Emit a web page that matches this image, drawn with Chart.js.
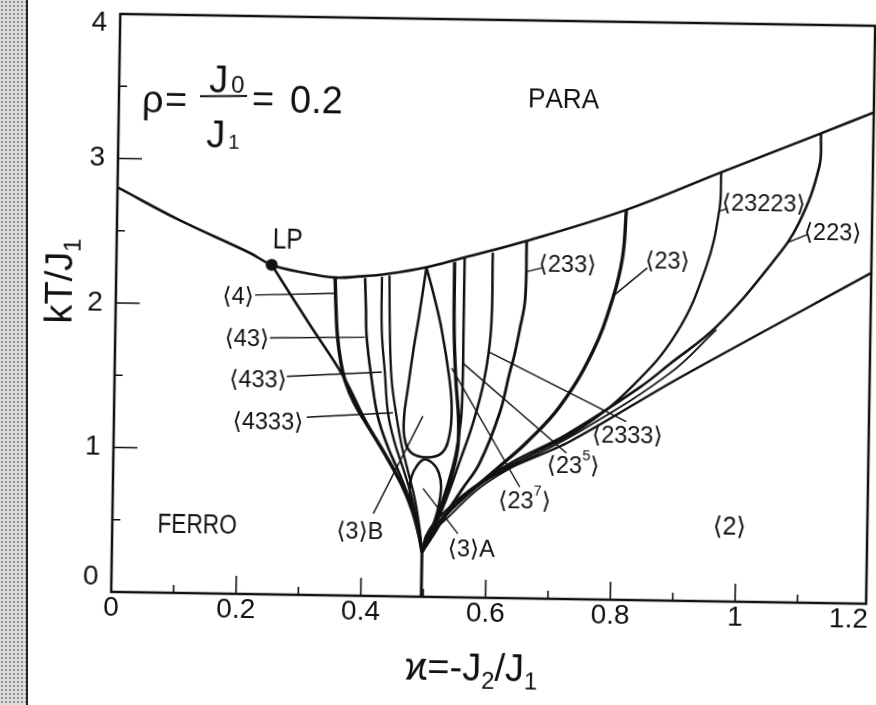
<!DOCTYPE html>
<html>
<head>
<meta charset="utf-8">
<title>Phase diagram, rho = 0.2</title>
<script src="https://cdn.jsdelivr.net/npm/chart.js@4.4.1/dist/chart.umd.min.js"></script>
<style>
  html, body { margin: 0; padding: 0; background: #fff; overflow: hidden; }
  #page { position: relative; width: 876px; height: 705px; }
  /* grey page edge of the scan */
  #edge { position: absolute; left: 0; top: 0; width: 26px; height: 705px;
          background: radial-gradient(#8c8c8c 0.7px, transparent 1.3px) 0 0 / 4px 4px, #dcdcdc;
          border-right: 2px solid #222; }
  /* the scanned figure is tilted a little, so is the chart */
  #chart { position: absolute; left: 0; top: 0;
           transform: rotate(0.9deg); transform-origin: 438px 352.5px; }
</style>
</head>
<body>
<div id="page">
  <div id="edge"></div>
  <canvas id="chart" width="876" height="705"></canvas>
</div>
<script>
const ink = '#111';

// axis ticks
const xTicks = [0, 0.1, 0.2, 0.3, 0.4, 0.5, 0.6, 0.7, 0.8, 0.9, 1, 1.1, 1.2];
const xMajor = [0, 0.2, 0.4, 0.6, 0.8, 1, 1.2];
const xLabels = ['0', '0.2', '0.4', '0.6', '0.8', '1', '1.2'];
const yTicks = [0, 0.5, 1, 1.5, 2, 2.5, 3, 3.5, 4];
const yMajor = [0, 1, 2, 3, 4];
const yLabels = ['0', '1', '2', '3', '4'];

// para / modulated boundary
const paraX = [0, 0.1, 0.214, 0.249, 0.3, 0.351, 0.391, 0.434, 0.497, 0.555, 0.646, 0.816, 0.967, 1.126, 1.21];
const paraY = [2.8, 2.58, 2.36, 2.28, 2.23, 2.2, 2.21, 2.23, 2.28, 2.35, 2.46, 2.7, 2.97, 3.25, 3.4];

// Lifshitz point
const lpX = 0.249;
const lpY = 2.28;

// ferro boundary from LP down to the multiphase point, then the stem
const ferroX = [0.249, 0.31, 0.366, 0.405, 0.437, 0.462, 0.48, 0.492, 0.497];
const ferroY = [2.28, 1.88, 1.52, 1.2, 0.97, 0.78, 0.6, 0.42, 0.31];
const stemX = [0.497, 0.497];
const stemY = [0, 0.31];

// left family <4>, <43>, <433>, <4333>
const c4X = [0.351, 0.353, 0.356, 0.362, 0.37, 0.385, 0.405, 0.437, 0.462, 0.48, 0.492, 0.497];
const c4Y = [2.2, 2.0, 1.8, 1.62, 1.48, 1.33, 1.19, 0.97, 0.78, 0.6, 0.42, 0.31];
const c43X = [0.399, 0.401, 0.403, 0.412, 0.423, 0.44, 0.46, 0.478, 0.491, 0.497];
const c43Y = [2.2, 2.0, 1.79, 1.5, 1.24, 1.03, 0.84, 0.64, 0.44, 0.31];
const c433X = [0.426, 0.427, 0.433, 0.439, 0.45, 0.466, 0.481, 0.492, 0.497];
const c433Y = [2.21, 1.84, 1.55, 1.27, 1.07, 0.87, 0.66, 0.45, 0.31];
const c4333X = [0.438, 0.44, 0.444, 0.453, 0.462, 0.473, 0.485, 0.493, 0.497];
const c4333Y = [2.22, 1.84, 1.5, 1.24, 1.04, 0.86, 0.66, 0.46, 0.31];

// <3> lenses
const lensBX = [0.497, 0.487, 0.478, 0.47, 0.465, 0.466, 0.476, 0.502, 0.527, 0.538, 0.541, 0.537, 0.523, 0.51, 0.497];
const lensBY = [2.28, 1.96, 1.7, 1.43, 1.25, 1.1, 1.0, 0.965, 1.0, 1.12, 1.3, 1.5, 1.85, 2.08, 2.28];
const lensAX = [0.497, 0.493, 0.485, 0.477, 0.476, 0.482, 0.497, 0.512, 0.522, 0.526, 0.521, 0.51, 0.497];
const lensAY = [0.31, 0.42, 0.55, 0.68, 0.78, 0.87, 0.95, 0.925, 0.86, 0.76, 0.6, 0.45, 0.31];

// right family <23^n>, <2333>, <233>, <23>, <23223>, <223>
const r1X = [0.542, 0.543, 0.547, 0.552, 0.552, 0.545, 0.533, 0.518, 0.505, 0.497];
const r1Y = [2.32, 1.85, 1.5, 1.25, 1.05, 0.88, 0.7, 0.52, 0.4, 0.31];
const r2X = [0.558, 0.558, 0.558, 0.556, 0.548, 0.535, 0.52, 0.507, 0.497];
const r2Y = [2.35, 1.85, 1.5, 1.22, 0.98, 0.76, 0.56, 0.42, 0.31];
const r3X = [0.603, 0.602, 0.592, 0.575, 0.556, 0.538, 0.522, 0.508, 0.497];
const r3Y = [2.39, 1.85, 1.5, 1.2, 0.95, 0.72, 0.54, 0.41, 0.31];
const c233X = [0.657, 0.656, 0.648, 0.64, 0.633, 0.618, 0.587, 0.56, 0.535, 0.515, 0.497];
const c233Y = [2.47, 2.07, 1.86, 1.68, 1.56, 1.28, 0.93, 0.75, 0.58, 0.43, 0.31];
const c23X = [0.816, 0.811, 0.796, 0.765, 0.714, 0.662, 0.619, 0.57, 0.53, 0.51, 0.497];
const c23Y = [2.7, 2.37, 2.08, 1.71, 1.33, 1.08, 0.91, 0.72, 0.55, 0.43, 0.31];
const c23223X = [0.967, 0.965, 0.945, 0.899, 0.83, 0.751, 0.672, 0.6, 0.55, 0.515, 0.497];
const c23223Y = [2.97, 2.71, 2.31, 1.85, 1.48, 1.19, 1.0, 0.82, 0.64, 0.47, 0.31];
const c223X = [1.126, 1.124, 1.093, 1.051, 0.963, 0.89, 0.841, 0.726, 0.635, 0.57, 0.525, 0.497];
const c223Y = [3.25, 3.02, 2.63, 2.35, 1.9, 1.64, 1.47, 1.14, 0.93, 0.73, 0.51, 0.31];
const extraX = [0.505, 0.53, 0.6, 0.75, 0.89, 0.963];
const extraY = [0.42, 0.52, 0.8, 1.17, 1.575, 1.88];

// boundary of the <2> phase
const c2X = [0.497, 0.503, 0.519, 0.572, 0.63, 0.731, 0.9, 1.21];
const c2Y = [0.31, 0.42, 0.53, 0.745, 0.89, 1.09, 1.53, 2.29];

// leader lines from labels to phases
const leaderX = [[0.223, 0.351], [0.248, 0.4], [0.276, 0.428], [0.309, 0.447],
                 [0.418, 0.495], [0.554, 0.497], [0.652, 0.54], [0.726, 0.558], [0.821, 0.6],
                 [0.657, 0.683], [0.799, 0.851], [0.965, 0.978], [1.075, 1.107]];
const leaderY = [[2.07, 2.09], [1.775, 1.79], [1.51, 1.55], [1.23, 1.27],
                 [0.57, 1.25], [0.44, 0.75], [0.77, 1.585], [1.01, 1.62], [1.235, 1.7],
                 [2.26, 2.29], [2.11, 2.3], [2.7, 2.72], [2.49, 2.55]];

// labels
const labelText = ['LP', 'PARA', 'FERRO', '⟨2⟩', '⟨4⟩', '⟨43⟩', '⟨433⟩', '⟨4333⟩', '⟨3⟩B', '⟨3⟩A',
                   '⟨23⁷⟩', '⟨23⁵⟩', '⟨2333⟩', '⟨233⟩', '⟨23⟩', '⟨23223⟩', '⟨223⟩'];
const labelX = [0.274, 0.7125, 0.136, 0.989, 0.196, 0.211, 0.23, 0.247, 0.397, 0.576,
                0.66, 0.737, 0.823, 0.723, 0.883, 1.036, 1.147];
const labelY = [2.45, 3.447, 0.466, 0.51, 2.055, 1.76, 1.48, 1.19, 0.44, 0.33,
                0.67, 0.92, 1.13, 2.31, 2.34, 2.75, 2.56];

const pts = (xs, ys) => xs.map((v, i) => ({ x: v, y: ys[i] }));
const curve = (xs, ys, w, tension = 0.4) => ({
  data: pts(xs, ys), showLine: true, borderColor: ink, borderWidth: w,
  pointRadius: 0, tension: tension, fill: false
});

const datasets = [
  curve(paraX, paraY, 2.6),
  curve(ferroX, ferroY, 2.6),
  curve(stemX, stemY, 3, 0),
  curve(c4X, c4Y, 3.5),
  curve(c43X, c43Y, 2.6),
  curve(c433X, c433Y, 2.3),
  curve(c4333X, c4333Y, 2.3),
  curve(lensBX, lensBY, 2.5),
  curve(lensAX, lensAY, 2.5),
  curve(r1X, r1Y, 3.4),
  curve(r2X, r2Y, 2.5),
  curve(r3X, r3Y, 2.5),
  curve(c233X, c233Y, 2.8),
  curve(c23X, c23Y, 3.4),
  curve(c23223X, c23223Y, 2.3),
  curve(c223X, c223Y, 2.6),
  curve(extraX, extraY, 1.8),
  curve(c2X, c2Y, 2.3, 0.3),
  ...leaderX.map((lx, i) => curve(lx, leaderY[i], 1.4, 0)),
  { data: [{ x: lpX, y: lpY }], showLine: false, pointRadius: 6,
    pointBackgroundColor: ink, pointBorderWidth: 0 }
];

const font = s => `${s}px "Liberation Sans", "DejaVu Sans", sans-serif`;

// text centred at x, y; superscript digits are drawn small and raised
const sup = { '⁵': '5', '⁷': '7' };
function label(ctx, str, x, y, size, sx) {
  const parts = [...str].map(ch => sup[ch] ? [sup[ch], size * 0.62, -size * 0.42] : [ch, size, 0]);
  ctx.save();
  ctx.textAlign = 'left';
  ctx.textBaseline = 'middle';
  ctx.translate(x, y);
  ctx.scale(sx, 1);
  let w = 0;
  parts.forEach(p => { ctx.font = font(p[1]); w += ctx.measureText(p[0]).width; });
  let cx = -w / 2;
  parts.forEach(p => {
    ctx.font = font(p[1]);
    ctx.fillText(p[0], cx, p[2]);
    cx += ctx.measureText(p[0]).width;
  });
  ctx.restore();
}

// text with subscripts, centred on x, baseline at y
function rich(ctx, parts, x, y, rot) {
  ctx.save();
  ctx.translate(x, y);
  if (rot) ctx.rotate(rot);
  ctx.textAlign = 'left';
  ctx.textBaseline = 'alphabetic';
  let w = 0;
  parts.forEach(p => { ctx.font = font(p[1]); w += ctx.measureText(p[0]).width; });
  let cx = -w / 2;
  parts.forEach(p => {
    ctx.font = font(p[1]);
    ctx.fillText(p[0], cx, p[2] || 0);
    cx += ctx.measureText(p[0]).width;
  });
  ctx.restore();
}

function labelStyle(t) {
  if (t === 'LP') return [29, 0.85];
  if (t === 'PARA') return [27, 0.97];
  if (t === 'FERRO') return [27, 0.84];
  if (t === '⟨2⟩') return [25, 1];
  return [23.5, 1];
}

const annotate = {
  id: 'annotate',
  afterDraw(chart) {
    const { ctx, chartArea: a, scales: { x, y } } = chart;
    ctx.save();
    ctx.strokeStyle = ink;
    ctx.fillStyle = ink;

    // frame
    ctx.lineWidth = 2.5;
    ctx.strokeRect(a.left, a.top, a.right - a.left, a.bottom - a.top);

    // tick marks pointing inwards
    ctx.lineWidth = 1.6;
    ctx.beginPath();
    x.ticks.forEach(t => {
      if (t.value <= 0 || t.value >= 1.2) return;
      const px = x.getPixelForValue(t.value);
      const len = xMajor.includes(t.value) ? 18 : 8;
      ctx.moveTo(px, a.bottom);
      ctx.lineTo(px, a.bottom - len);
    });
    y.ticks.forEach(t => {
      if (t.value <= 0 || t.value >= 4) return;
      const py = y.getPixelForValue(t.value);
      const len = yMajor.includes(t.value) ? 24 : 8;
      ctx.moveTo(a.left, py);
      ctx.lineTo(a.left + len, py);
    });
    ctx.stroke();

    // tick labels
    ctx.font = font(28);
    ctx.textBaseline = 'middle';
    ctx.textAlign = 'center';
    xMajor.forEach((v, i) => {
      const half = ctx.measureText(xLabels[i]).width / 2;
      const px = Math.min(x.getPixelForValue(v), chart.width - 4 - half);
      ctx.fillText(xLabels[i], px, a.bottom + 16);
    });
    ctx.textAlign = 'right';
    yMajor.forEach((v, i) => {
      const py = Math.min(Math.max(y.getPixelForValue(v), a.top + 9), a.bottom - 15);
      ctx.fillText(yLabels[i], a.left - 13, py);
    });

    // axis titles
    rich(ctx, [['ϰ', 38], ['=-J', 38], ['2', 24, 8], ['/J', 38], ['1', 24, 8]], 476, 680);
    rich(ctx, [['kT/J', 38], ['1', 24, 8]], 71, 287, -Math.PI / 2);

    // rho = J0 / J1 = 0.2
    ctx.textAlign = 'left';
    ctx.textBaseline = 'alphabetic';
    ctx.font = font(38);
    ctx.fillText('ρ', 138, 117);
    ctx.fillText('=', 161, 117);
    ctx.fillText('J', 205, 96);
    ctx.fillText('J', 203, 151);
    ctx.fillText('=', 248, 115);
    ctx.fillText('0.2', 286, 115);
    ctx.font = font(24);
    ctx.fillText('0', 227, 96);
    ctx.font = font(20);
    ctx.fillText('1', 225, 152);
    ctx.lineWidth = 2;
    ctx.beginPath();
    ctx.moveTo(196, 100);
    ctx.lineTo(243, 99);
    ctx.stroke();

    // phase labels
    labelText.forEach((t, i) => {
      const [size, sx] = labelStyle(t);
      label(ctx, t, x.getPixelForValue(labelX[i]), y.getPixelForValue(labelY[i]), size, sx);
    });
    ctx.restore();
  }
};

new Chart(document.getElementById('chart'), {
  type: 'scatter',
  data: { datasets },
  options: {
    responsive: false,
    animation: false,
    layout: { padding: { left: 0, right: 5, top: 19, bottom: 0 } },
    plugins: { legend: { display: false }, tooltip: { enabled: false } },
    scales: {
      x: {
        type: 'linear', min: 0, max: 1.21,
        grid: { display: false }, border: { display: false },
        ticks: { display: false },
        afterBuildTicks: s => { s.ticks = xTicks.map(v => ({ value: v })); },
        afterFit: s => { s.height = 108; }
      },
      y: {
        type: 'linear', min: 0, max: 4,
        grid: { display: false }, border: { display: false },
        ticks: { display: false },
        afterBuildTicks: s => { s.ticks = yTicks.map(v => ({ value: v })); },
        afterFit: s => { s.width = 115; }
      }
    }
  },
  plugins: [annotate]
});
</script>
</body>
</html>
